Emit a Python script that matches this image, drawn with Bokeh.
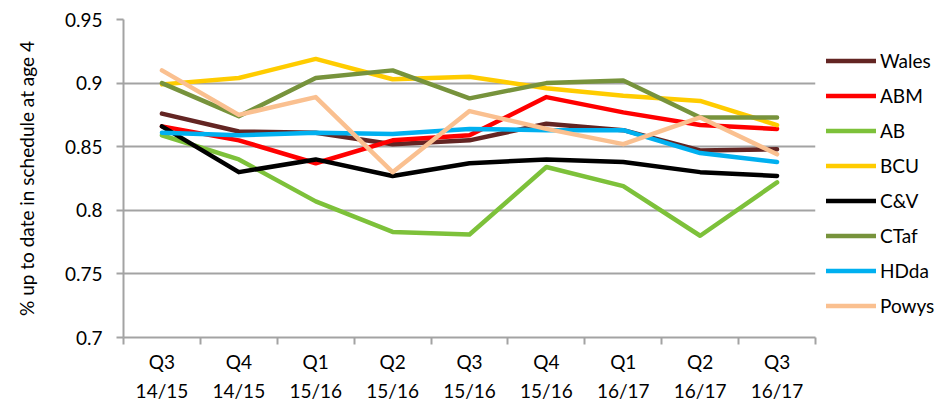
from bokeh.plotting import figure
from bokeh.models import Range1d, FixedTicker, Legend, LegendItem
from bokeh.embed import file_html
from bokeh.resources import INLINE

quarters = ["Q3\n14/15", "Q4\n14/15", "Q1\n15/16", "Q2\n15/16", "Q3\n15/16",
            "Q4\n15/16", "Q1\n16/17", "Q2\n16/17", "Q3\n16/17"]
y_ticks = [0.7, 0.75, 0.8, 0.85, 0.9, 0.95]
y_tick_labels = ["0.7", "0.75", "0.8", "0.85", "0.9", "0.95"]

wales = [0.876, 0.862, 0.861, 0.852, 0.855, 0.868, 0.863, 0.847, 0.848]
abm = [0.866, 0.855, 0.837, 0.855, 0.859, 0.889, 0.877, 0.867, 0.864]
ab = [0.859, 0.840, 0.807, 0.783, 0.781, 0.834, 0.819, 0.780, 0.822]
bcu = [0.899, 0.904, 0.919, 0.903, 0.905, 0.896, 0.890, 0.886, 0.867]
cv = [0.866, 0.830, 0.840, 0.827, 0.837, 0.840, 0.838, 0.830, 0.827]
ctaf = [0.900, 0.874, 0.904, 0.910, 0.888, 0.900, 0.902, 0.873, 0.873]
hdda = [0.861, 0.859, 0.861, 0.860, 0.864, 0.863, 0.863, 0.845, 0.838]
powys = [0.910, 0.875, 0.889, 0.830, 0.878, 0.864, 0.852, 0.873, 0.844]

series_names = ["Wales", "ABM", "AB", "BCU", "C&V", "CTaf", "HDda", "Powys"]
series_values = [wales, abm, ab, bcu, cv, ctaf, hdda, powys]
series_colors = ["#632523", "#FF0000", "#7DC13A", "#FFCC00", "#000000",
                 "#77933C", "#00B0F0", "#FAC090"]

FONT = "Lato"
GRID = "#A3A3A3"
TXT = "#000000"

n = len(quarters)
x_pos = [i + 0.5 for i in range(n)]

p = figure(frame_width=692, frame_height=318,
           x_range=Range1d(0, n), y_range=Range1d(y_ticks[0], y_ticks[-1]),
           output_backend="svg", toolbar_location=None,
           min_border_left=123, min_border_right=122,
           min_border_top=19, min_border_bottom=65)
p.outline_line_color = None
p.background_fill_color = "white"
p.border_fill_color = "white"

p.xgrid.grid_line_color = None
p.ygrid.grid_line_color = GRID
p.ygrid.grid_line_width = 2

# y axis
p.yaxis.ticker = FixedTicker(ticks=y_ticks)
p.yaxis.major_label_overrides = dict(zip(y_ticks, y_tick_labels))
p.yaxis.axis_line_color = GRID
p.yaxis.axis_line_width = 2
p.yaxis.major_tick_line_color = GRID
p.yaxis.major_tick_line_width = 2
p.yaxis.major_tick_out = 7
p.yaxis.major_tick_in = 0
p.yaxis.minor_tick_line_color = None
p.yaxis.major_label_standoff = 14
p.yaxis.major_label_text_font = FONT
p.yaxis.major_label_text_font_size = "19px"
p.yaxis.major_label_text_color = TXT
p.yaxis.axis_label = "% up to date in schedule at age 4"
p.yaxis.axis_label_text_font = FONT
p.yaxis.axis_label_text_font_size = "19px"
p.yaxis.axis_label_text_font_style = "normal"
p.yaxis.axis_label_text_color = TXT
p.yaxis.axis_label_standoff = 24

# x axis
p.xaxis.ticker = FixedTicker(ticks=x_pos, minor_ticks=list(range(n + 1)))
p.xaxis.major_label_overrides = dict(zip(x_pos, quarters))
p.xaxis.axis_line_color = GRID
p.xaxis.axis_line_width = 2
p.xaxis.major_tick_line_color = None
p.xaxis.major_tick_out = 0
p.xaxis.major_tick_in = 0
p.xaxis.minor_tick_line_color = GRID
p.xaxis.minor_tick_line_width = 2
p.xaxis.minor_tick_out = 7
p.xaxis.minor_tick_in = 0
p.xaxis.major_label_standoff = 5
p.xaxis.major_label_text_font = FONT
p.xaxis.major_label_text_font_size = "19px"
p.xaxis.major_label_text_color = TXT
p.xaxis.major_label_text_line_height = 1.3

items = []
for name, vals, col in zip(series_names, series_values, series_colors):
    r = p.line(x_pos, vals, line_color=col, line_width=4.5,
               line_join="round", line_cap="round")
    items.append(LegendItem(label=name, renderers=[r]))

legend = Legend(items=items, location=(11, 20),
                glyph_width=50, glyph_height=23, label_height=23,
                spacing=12, label_standoff=4, padding=4, margin=0,
                border_line_color=None, background_fill_alpha=0,
                label_text_font=FONT, label_text_font_size="19px",
                label_text_color=TXT)
p.add_layout(legend, "right")

open("out.html", "w").write(file_html(p, INLINE))
